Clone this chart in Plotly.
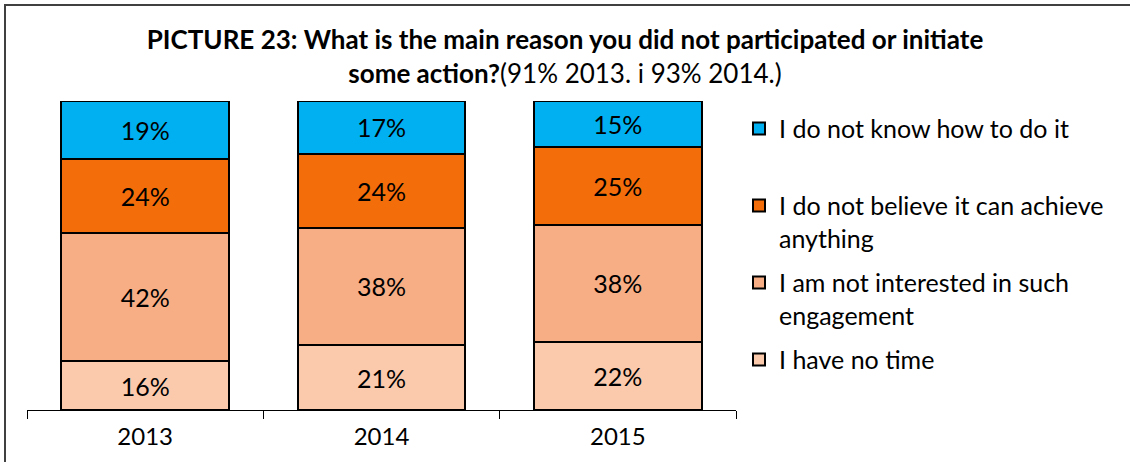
import plotly.graph_objects as go

years = ["2013", "2014", "2015"]
series_names = [
    "I have no time",
    "I am not interested in such<br>engagement",
    "I do not believe it can achieve<br>anything",
    "I do not know how to do it<br>&nbsp;",
]
no_time = [16, 21, 22]
not_interested = [42, 38, 38]
not_believe = [24, 24, 25]
not_know = [19, 17, 15]
colors = ["#FBCAAD", "#F8AE85", "#F46D0B", "#00B0F0"]

values = [no_time, not_interested, not_believe, not_know]

FONT = "Lato"
fig = go.Figure()
for i, (name, vals, col) in enumerate(zip(series_names, values, colors)):
    fig.add_trace(go.Bar(
        x=years, y=vals, name=name, legendgroup=f"g{i}", legendrank=4 - i,
        marker=dict(color=col, line=dict(color="#000000", width=2)),
        text=[f"{v}%" for v in vals],
        textposition="inside", insidetextanchor="middle",
        textfont=dict(family=FONT, size=25, color="#000000"),
        constraintext="none",
        hoverinfo="skip",
    ))

fig.update_layout(
    width=1130, height=462,
    barmode="stack", barnorm="percent", bargap=0.29,
    paper_bgcolor="white", plot_bgcolor="white",
    margin=dict(l=27, r=394, t=101, b=52),
    font=dict(family=FONT, size=24, color="#000000"),
    title=dict(
        text="<b>PICTURE 23: What is the main reason you did not participated or initiate</b><br>"
             "<b>some action?</b>(91% 2013. i 93% 2014.)",
        x=0.5, xref="container", xanchor="center",
        y=1 - 49 / 462, yref="container", yanchor="top",
        font=dict(family=FONT, size=26, color="#000000"),
    ),
    legend=dict(
        x=(739 - 27) / 709, y=0.985, xanchor="left", yanchor="top",
        traceorder="grouped", valign="top",
        font=dict(family=FONT, size=25, color="#000000"),
        bgcolor="rgba(0,0,0,0)",
        tracegroupgap=9,
    ),
    uniformtext=dict(mode=False),
)
fig.update_xaxes(
    showline=True, linecolor="#000000", linewidth=1,
    ticks="outside", ticklen=8, tickcolor="#000000",
    tickson="boundaries", showgrid=False, ticklabelstandoff=5,
    tickfont=dict(family=FONT, size=24, color="#000000"),
)
fig.update_yaxes(visible=False, range=[0, 100], showgrid=False)

# outer chart frame (top and left edges visible; right/bottom run off the page)
fig.add_shape(
    type="rect", xref="paper", yref="paper",
    x0=(5 - 27) / 709, x1=3.0,
    y0=-1.0, y1=(410 - 5) / 309,
    line=dict(color="#404040", width=2), fillcolor="rgba(0,0,0,0)",
    layer="below",
)

fig.write_html("out.html", config={"displayModeBar": False},
               post_script="document.body.style.margin='0px';")
